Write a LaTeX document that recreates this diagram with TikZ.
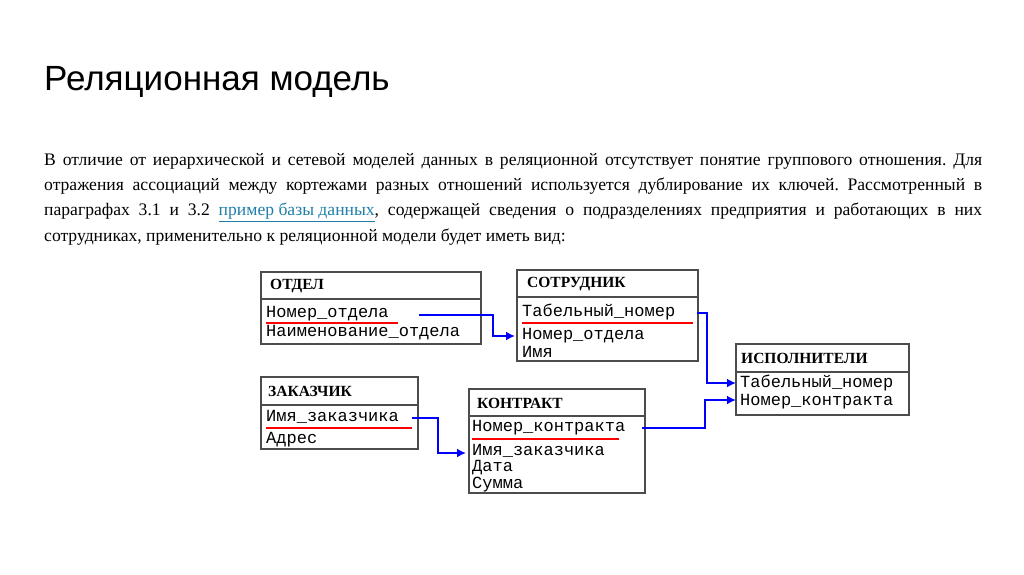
\documentclass[tikz,border=0pt]{standalone}
\usepackage{fontspec}
\setmainfont{Liberation Serif}
\newfontfamily\titlefont{Liberation Sans}
\newfontfamily\monof{Liberation Mono}
\usetikzlibrary{arrows.meta}
\definecolor{linkc}{HTML}{1F7FA8}
\frenchspacing
\begin{document}
\begin{tikzpicture}[x=1pt,y=-1pt,
  tbl/.style={draw=black!70,line width=1.5pt},
  hdr/.style={anchor=west,inner sep=0,font=\bfseries\fontsize{15.5}{16}\selectfont},
  row/.style={anchor=west,inner sep=0,font=\monof\fontsize{17}{17}\selectfont},
  key/.style={red,line width=1.2pt},
  link/.style={blue,line width=2.5pt,-{Latex[length=9pt,width=9pt]}}]
\useasboundingbox (0,0) rectangle (1024,574);
\node[anchor=west,inner sep=0,font=\titlefont\fontsize{35}{36}\selectfont] (title) at (44,82) {Реляционная модель};
\node[anchor=north west,inner sep=0,text width=938pt,align=justify,font=\fontsize{17.6}{25.3}\selectfont] (para) at (44,153)
{В отличие от иерархической и сетевой моделей данных в реляционной отсутствует понятие группового отношения. Для отражения ассоциаций между кортежами разных отношений используется дублирование их ключей. Рассмотренный в параграфах 3.1 и 3.2 \textcolor{linkc}{\underline{пример базы данных}}, содержащей сведения о подразделениях предприятия и работающих в них сотрудниках, применительно к реляционной модели будет иметь вид:};
% ОТДЕЛ
\draw[tbl] (261,272) rectangle (481,344); \draw[tbl] (261,299) -- (481,299);
\node[hdr] (h1) at (270,286) {ОТДЕЛ};
\node[row] (o1) at (266,314) {Номер\_отдела};
\node[row] (o2) at (266,333) {Наименование\_отдела};
\draw[key] (266,323) -- (398,323);
% СОТРУДНИК
\draw[tbl] (517,270) rectangle (698,361); \draw[tbl] (517,297) -- (698,297);
\node[hdr] (h2) at (527,284) {СОТРУДНИК};
\node[row] (s1) at (522,312) {Табельный\_номер};
\node[row] (s2) at (522,336) {Номер\_отдела};
\node[row] (s3) at (522,352) {Имя};
\draw[key] (522,323) -- (693,323);
% ИСПОЛНИТЕЛИ
\draw[tbl] (736,344) rectangle (909,415); \draw[tbl] (736,372) -- (909,372);
\node[hdr] (h3) at (741,358) {ИСПОЛНИТЕЛИ};
\node[row] (i1) at (740,383) {Табельный\_номер};
\node[row] (i2) at (740,402) {Номер\_контракта};
% ЗАКАЗЧИК
\draw[tbl] (261,377) rectangle (418,449); \draw[tbl] (261,405) -- (418,405);
\node[hdr] (h4) at (268,391) {ЗАКАЗЧИК};
\node[row] (z1) at (266,417) {Имя\_заказчика};
\node[row] (z2) at (266,440) {Адрес};
\draw[key] (266,428) -- (412,428);
% КОНТРАКТ
\draw[tbl] (469,389) rectangle (645,493); \draw[tbl] (469,416) -- (645,416);
\node[hdr] (h5) at (477,403) {КОНТРАКТ};
\node[row] (k1) at (472,428) {Номер\_контракта};
\node[row] (k2) at (472,451) {Имя\_заказчика};
\node[row] (k3) at (472,468) {Дата};
\node[row] (k4) at (472,485) {Сумма};
\draw[key] (472,439) -- (619,439);
% links
\coordinate (a1) at (419,315); \coordinate (b1) at (515,336);
\draw[link] (a1) -- (493,315) |- (b1);
\coordinate (a2) at (697,313); \coordinate (b2) at (736,383);
\draw[link] (a2) -- (707,313) |- (b2);
\coordinate (a3) at (412,418); \coordinate (b3) at (466,453);
\draw[link] (a3) -- (438,418) |- (b3);
\coordinate (a4) at (642,428); \coordinate (b4) at (736,400);
\draw[link] (a4) -- (705,428) |- (b4);
\end{tikzpicture}
\end{document}
